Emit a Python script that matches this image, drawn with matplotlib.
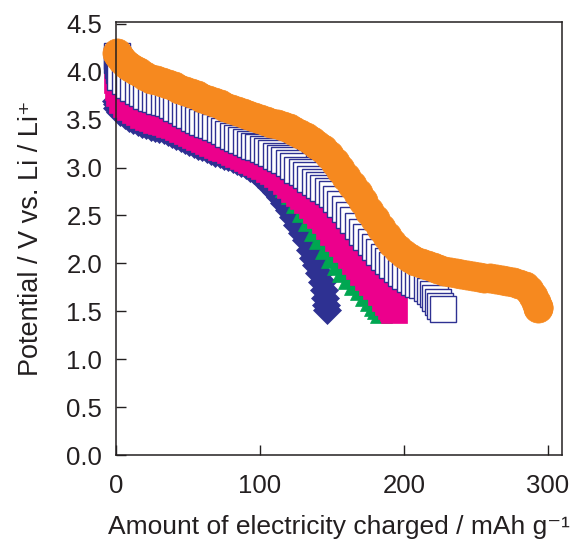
import matplotlib
matplotlib.use("Agg")
import matplotlib.pyplot as plt

plt.rcParams["font.family"] = ["Liberation Sans", "DejaVu Sans"]

# --- data (centres of the markers) ---
navy_x = [0, 0.5, 1, 3, 6, 9, 12, 15, 18, 21, 24, 27, 30, 33, 36, 39, 42, 45, 48, 51,
          54, 57, 60, 63, 66, 69, 72, 75, 78, 81, 84, 87, 90, 93, 96, 99, 102, 105, 108,
          111, 114, 117, 120, 123, 126, 129, 132, 135, 137, 139, 141, 143, 144.5, 145.5,
          146, 146.5]
navy_y = [3.70, 3.66, 3.62, 3.58, 3.55, 3.52, 3.50, 3.48, 3.46, 3.44, 3.42, 3.41, 3.40,
          3.39, 3.37, 3.35, 3.33, 3.31, 3.29, 3.27, 3.25, 3.23, 3.21, 3.19, 3.17, 3.15,
          3.14, 3.12, 3.11, 3.09, 3.07, 3.05, 3.03, 3.00, 2.97, 2.93, 2.89, 2.85, 2.80,
          2.75, 2.69, 2.63, 2.56, 2.48, 2.40, 2.32, 2.24, 2.14, 2.06, 1.98, 1.90, 1.81,
          1.72, 1.64, 1.57, 1.51]

green_x = [1, 2, 4, 7, 10, 16, 22, 28, 34, 40, 46, 52, 58, 64, 70, 76, 82, 88, 94, 100,
           106, 110, 114, 118, 122, 126, 130, 134, 138, 142, 146, 150, 154, 158, 162, 166,
           170, 174, 177, 180, 182, 184]
green_y = [3.90, 3.76, 3.70, 3.65, 3.62, 3.57, 3.52, 3.49, 3.47, 3.43, 3.39, 3.35, 3.31,
           3.27, 3.23, 3.19, 3.15, 3.12, 3.08, 3.03, 2.98, 2.94, 2.88, 2.81, 2.73, 2.64,
           2.55, 2.45, 2.35, 2.26, 2.16, 2.07, 1.99, 1.92, 1.85, 1.79, 1.73, 1.67, 1.62,
           1.57, 1.53, 1.49]

magenta_x = [1, 1.5, 2, 4, 7, 10, 13, 16, 19, 22, 25, 28, 31, 34, 37, 40, 43, 46, 49, 52,
             55, 58, 61, 64, 67, 70, 73, 76, 79, 82, 85, 88, 91, 94, 97, 100, 103, 106,
             109, 112, 115, 118, 121, 124, 127, 130, 133, 136, 139, 142, 145, 148, 151,
             154, 157, 160, 163, 166, 169, 172, 175, 178, 181, 184, 187, 189, 191, 192.5,
             193.5]
magenta_y = [3.91, 3.84, 3.78, 3.71, 3.66, 3.63, 3.60, 3.58, 3.55, 3.53, 3.52, 3.50, 3.49,
             3.48, 3.46, 3.44, 3.42, 3.40, 3.38, 3.36, 3.34, 3.32, 3.30, 3.28, 3.26, 3.24,
             3.22, 3.20, 3.18, 3.16, 3.14, 3.12, 3.10, 3.08, 3.06, 3.04, 3.02, 2.99, 2.96,
             2.93, 2.90, 2.86, 2.82, 2.78, 2.74, 2.70, 2.66, 2.61, 2.56, 2.51, 2.45, 2.39,
             2.33, 2.27, 2.21, 2.15, 2.09, 2.03, 1.97, 1.91, 1.86, 1.81, 1.76, 1.70, 1.64,
             1.60, 1.56, 1.53, 1.51]

open_x = [0.5, 1, 1.5, 2, 3, 6, 9, 12, 15, 18, 21, 24, 27, 30, 33, 36, 39, 42, 45, 48, 51,
          54, 57, 60, 63, 66, 69, 72, 75, 78, 81, 84, 87, 90, 93, 96, 99, 102, 105, 108,
          111, 114, 117, 120, 123, 126, 129, 132, 135, 138, 141, 144, 147, 150, 153, 156,
          159, 162, 165, 168, 171, 174, 177, 180, 183, 186, 189, 192, 195, 198, 201, 204,
          207, 210, 213, 216, 218, 220, 222, 224, 225.5, 227]
open_y = [4.17, 4.12, 4.07, 4.02, 3.95, 3.90, 3.86, 3.83, 3.80, 3.78, 3.75, 3.73, 3.72,
          3.70, 3.68, 3.67, 3.65, 3.62, 3.60, 3.57, 3.55, 3.52, 3.50, 3.48, 3.46, 3.44,
          3.42, 3.40, 3.38, 3.35, 3.33, 3.31, 3.29, 3.27, 3.25, 3.23, 3.21, 3.19, 3.17,
          3.15, 3.12, 3.10, 3.08, 3.05, 3.02, 2.98, 2.95, 2.92, 2.88, 2.85, 2.82, 2.79,
          2.76, 2.72, 2.67, 2.62, 2.57, 2.51, 2.45, 2.39, 2.33, 2.28, 2.22, 2.17, 2.12,
          2.07, 2.03, 1.98, 1.94, 1.90, 1.87, 1.84, 1.81, 1.79, 1.77, 1.74, 1.71, 1.68,
          1.64, 1.60, 1.56, 1.52]

orange_x = [1, 2, 4, 7, 10, 13, 16, 20, 24, 28, 32, 36, 40, 44, 48, 52, 56, 60, 64, 68,
            72, 76, 80, 84, 88, 92, 96, 100, 104, 108, 112, 116, 120, 124, 128, 132, 136,
            140, 144, 148, 152, 156, 160, 164, 168, 172, 176, 180, 184, 188, 192, 196, 200,
            204, 208, 212, 216, 220, 224, 228, 232, 236, 240, 244, 248, 252, 256, 260, 264,
            268, 272, 276, 280, 284, 287, 290, 292, 293, 293.5]
orange_y = [4.20, 4.16, 4.12, 4.08, 4.05, 4.02, 4.00, 3.96, 3.93, 3.91, 3.89, 3.87, 3.85,
            3.82, 3.80, 3.78, 3.76, 3.73, 3.71, 3.68, 3.66, 3.63, 3.61, 3.59, 3.57, 3.55,
            3.53, 3.51, 3.49, 3.47, 3.45, 3.43, 3.41, 3.38, 3.35, 3.32, 3.28, 3.24, 3.19,
            3.13, 3.06, 2.99, 2.90, 2.82, 2.74, 2.65, 2.55, 2.46, 2.37, 2.29, 2.21, 2.15,
            2.10, 2.06, 2.03, 2.00, 1.98, 1.96, 1.94, 1.92, 1.91, 1.90, 1.89, 1.88, 1.87,
            1.86, 1.85, 1.85, 1.84, 1.83, 1.82, 1.81, 1.79, 1.76, 1.72, 1.66, 1.60, 1.55,
            1.53]

x_ticks = [0, 100, 200, 300]
y_ticks = [0.0, 0.5, 1.0, 1.5, 2.0, 2.5, 3.0, 3.5, 4.0, 4.5]

# --- colours ---
NAVY = "#2E3192"
GREEN = "#00A651"
MAGENTA = "#EC008C"
ORANGE = "#F6891F"
INK = "#231F20"

fig = plt.figure(figsize=(5.71, 5.40), dpi=100)
ax = fig.add_axes([0.2032, 0.1574, 0.7811, 0.8019])

common = dict(linestyle="none", clip_on=False)
ax.plot(navy_x, navy_y, marker="D", ms=14, color=NAVY, mec=NAVY, mew=0.5, zorder=3, **common)
ax.plot(green_x, green_y, marker="^", ms=16, color=GREEN, mec=GREEN, mew=0.5, zorder=4, **common)
ax.plot(magenta_x, magenta_y, marker="s", ms=18.5, color=MAGENTA, mec=MAGENTA, mew=0.5,
        zorder=5, **common)
ax.plot(open_x, open_y, marker="s", ms=18.5, mfc="white", mec=NAVY, mew=1.0, zorder=6, **common)
ax.plot(orange_x, orange_y, marker="o", ms=21, color=ORANGE, mec=ORANGE, mew=0.5, zorder=7,
        **common)

ax.set_xlim(0, 310)
ax.set_ylim(0, 4.52)
ax.set_xticks(x_ticks)
ax.set_yticks(y_ticks)
ax.set_yticklabels([f"{v:.1f}" for v in y_ticks])

ax.tick_params(axis="both", direction="in", length=7, width=1.0, color=INK,
               labelsize=18.5, labelcolor=INK)
ax.tick_params(axis="x", pad=14)
ax.tick_params(axis="y", pad=10)
for s in ax.spines.values():
    s.set_linewidth(1.1)
    s.set_color(INK)
    s.set_zorder(10)

ax.set_xlabel("Amount of electricity charged / mAh g\u207b\u00b9", fontsize=19, color=INK,
              labelpad=12)
ax.set_ylabel("Potential / V vs. Li / Li\u207a", fontsize=19.5, color=INK, labelpad=16)

fig.savefig("out.png", dpi=100)
